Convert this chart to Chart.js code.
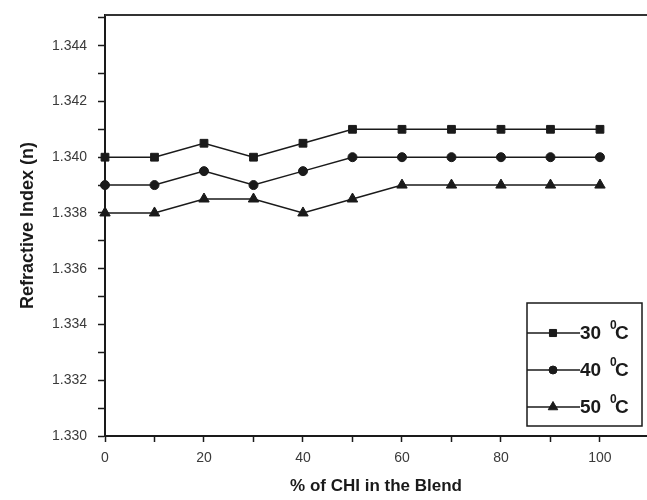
<!DOCTYPE html>
<html>
<head>
<meta charset="utf-8">
<script src="https://cdn.jsdelivr.net/npm/chart.js@4.4.0/dist/chart.umd.min.js"></script>
<style>
  html, body { margin: 0; padding: 0; background: #fff; }
  #wrap { width: 647px; height: 500px; position: relative; }
</style>
</head>
<body>
<div id="wrap"><canvas id="riChart"></canvas></div>
<script>
// ------ DATA ------
const pctCHI = [0, 10, 20, 30, 40, 50, 60, 70, 80, 90, 100];
const ri30 = [1.3400, 1.3400, 1.3405, 1.3400, 1.3405, 1.3410, 1.3410, 1.3410, 1.3410, 1.3410, 1.3410];
const ri40 = [1.3390, 1.3390, 1.3395, 1.3390, 1.3395, 1.3400, 1.3400, 1.3400, 1.3400, 1.3400, 1.3400];
const ri50 = [1.3380, 1.3380, 1.3385, 1.3385, 1.3380, 1.3385, 1.3390, 1.3390, 1.3390, 1.3390, 1.3390];
const seriesLabels = ['30', '40', '50'];
const xTitle = '% of CHI in the Blend';
const yTitle = 'Refractive Index (n)';

const INK = '#1a1a1a';
const TICK_TXT = '#3a3a3a';

// top frame line + custom legend box
const framePlugin = {
  id: 'framePlugin',
  afterDraw(chart) {
    const { ctx, chartArea: a } = chart;
    ctx.save();
    ctx.strokeStyle = '#333';
    ctx.lineWidth = 2;
    ctx.beginPath();
    ctx.moveTo(a.left, a.top);
    ctx.lineTo(a.right, a.top);
    ctx.stroke();

    // legend
    const bw = 115, bh = 123;
    const bx = a.right - 5 - bw, by = a.bottom - 10 - bh;
    ctx.fillStyle = '#fff';
    ctx.fillRect(bx, by, bw, bh);
    ctx.strokeStyle = INK;
    ctx.lineWidth = 1.5;
    ctx.strokeRect(bx, by, bw, bh);

    chart.data.datasets.forEach((ds, i) => {
      const y = by + 30 + i * 37;
      ctx.strokeStyle = INK;
      ctx.fillStyle = INK;
      ctx.lineWidth = 1.5;
      ctx.beginPath();
      ctx.moveTo(bx, y);
      ctx.lineTo(bx + 53, y);
      ctx.stroke();
      ctx.lineWidth = 1;
      Chart.helpers.drawPoint(ctx, {
        pointStyle: ds.pointStyle,
        radius: ds.pointRadius - 0.5,
        borderWidth: 1
      }, bx + 26, y);
      ctx.fillStyle = INK;
      ctx.textBaseline = 'middle';
      ctx.font = 'bold 19px "Liberation Sans Narrow", "Liberation Sans", Arial, sans-serif';
      ctx.fillText(seriesLabels[i], bx + 53, y + 1);
      ctx.font = 'bold 12px "Liberation Sans", Arial, sans-serif';
      ctx.fillText('0', bx + 83, y - 7);
      ctx.font = 'bold 19px "Liberation Sans", Arial, sans-serif';
      ctx.fillText('C', bx + 88, y + 1);
    });
    ctx.restore();
  }
};

function makeSet(label, data, style, r) {
  return {
    label, data,
    borderColor: INK,
    backgroundColor: INK,
    borderWidth: 1.5,
    pointStyle: style,
    pointRadius: r,
    pointBorderWidth: 1,
    pointBackgroundColor: INK,
    pointBorderColor: INK,
    tension: 0,
    clip: false
  };
}

new Chart(document.getElementById('riChart'), {
  type: 'line',
  data: {
    datasets: [
      makeSet('30 °C', pctCHI.map((x, i) => ({ x, y: ri30[i] })), 'rect', 5.5),
      makeSet('40 °C', pctCHI.map((x, i) => ({ x, y: ri40[i] })), 'circle', 4.5),
      makeSet('50 °C', pctCHI.map((x, i) => ({ x, y: ri50[i] })), 'triangle', 6)
    ]
  },
  options: {
    responsive: true,
    maintainAspectRatio: false,
    animation: false,
    layout: { autoPadding: false, padding: { top: 15, right: 0, left: 0, bottom: 0 } },
    plugins: {
      legend: { display: false },
      tooltip: { enabled: false }
    },
    scales: {
      x: {
        type: 'linear',
        min: 0,
        max: 109.5,
        afterBuildTicks: s => { s.ticks = s.ticks.filter(t => t.value <= 100.5); },
        afterFit: s => { s.height = 64; s.paddingLeft = 0; s.paddingRight = 0; },
        grid: { drawOnChartArea: false, tickLength: 6, tickColor: INK, tickWidth: 1.5 },
        border: { color: INK, width: 2 },
        ticks: {
          stepSize: 10,
          includeBounds: false,
          padding: 8,
          color: TICK_TXT,
          font: { family: '"Liberation Sans", Arial, sans-serif', size: 14 },
          maxRotation: 0,
          autoSkip: false,
          callback: v => (Math.round(v) % 20 === 0 ? String(Math.round(v)) : '')
        },
        title: {
          display: true,
          text: xTitle,
          color: INK,
          font: { family: '"Liberation Sans", Arial, sans-serif', size: 17, weight: 'bold' },
          padding: { top: 0, bottom: 3 }
        }
      },
      y: {
        type: 'linear',
        min: 1.330,
        max: 1.3451,
        afterFit: s => { s.width = 105; s.paddingTop = 0; s.paddingBottom = 0; },
        grid: { drawOnChartArea: false, tickLength: 7, tickColor: INK, tickWidth: 1.5 },
        border: { color: INK, width: 2 },
        ticks: {
          stepSize: 0.001,
          includeBounds: false,
          padding: 11,
          color: TICK_TXT,
          font: { family: '"Liberation Sans", Arial, sans-serif', size: 14 },
          autoSkip: false,
          callback: v => {
            const k = Math.round(v * 1000);
            return (k % 2 === 0 && k < 1345) ? (k / 1000).toFixed(3) : '';
          }
        },
        title: {
          display: true,
          text: yTitle,
          color: INK,
          font: { family: '"Liberation Sans", Arial, sans-serif', size: 18, weight: 'bold' },
          padding: { top: 17, bottom: 0 }
        }
      }
    }
  },
  plugins: [framePlugin]
});
</script>
</body>
</html>
